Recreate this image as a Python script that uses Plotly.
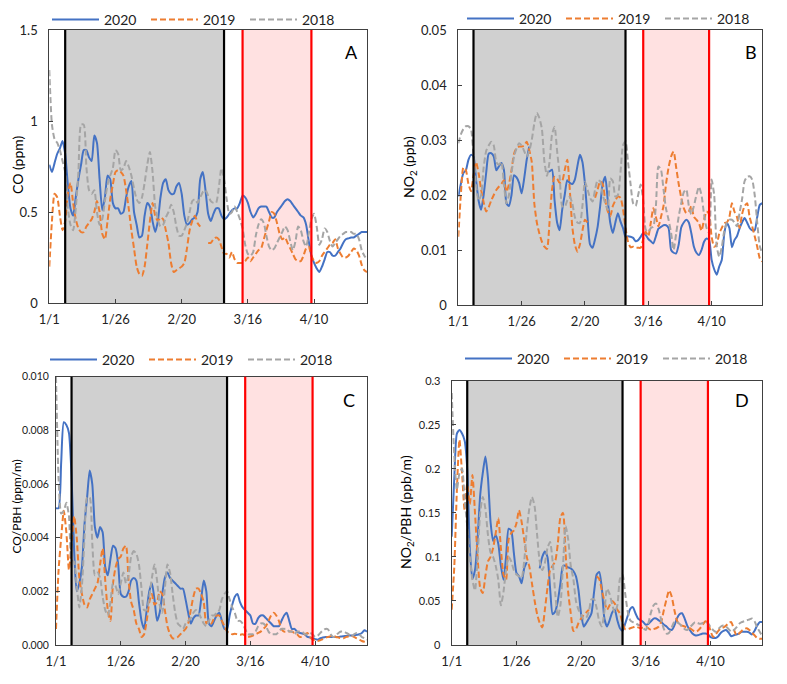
import plotly.graph_objects as go
import pandas as pd

# ---------------- data ----------------
dates = pd.date_range("2020-01-01", "2020-04-30", freq="D")
tick_dates = ["2020-01-01", "2020-01-26", "2020-02-20", "2020-03-16", "2020-04-10"]
tick_labels = ["1/1", "1/26", "2/20", "3/16", "4/10"]
years = ["2020", "2019", "2018"]
period_grey = ("2020-01-07", "2020-03-07")
period_red = ("2020-03-14", "2020-04-09")
N = None

co_2020 = [
    0.76, 0.72, 0.77, 0.82, 0.85, 0.89, 0.82, 0.65, 0.52, 0.48,
    0.58, 0.68, 0.76, 0.84, 0.84, 0.80, 0.78, 0.92, 0.88, 0.68,
    0.51, 0.58, 0.70, 0.68, 0.55, 0.52, 0.52, 0.49, 0.50, 0.58,
    0.64, 0.67, 0.50, 0.43, 0.36, 0.37, 0.48, 0.55, 0.53, 0.45,
    0.39, 0.45, 0.58, 0.66, 0.68, 0.62, 0.60, 0.60, 0.64, 0.66,
    0.60, 0.48, 0.43, 0.44, 0.46, 0.47, 0.50, 0.68, 0.72, 0.62,
    0.49, 0.45, 0.49, 0.52, 0.52, 0.48, 0.46, 0.47, 0.49, 0.51,
    0.52, 0.52, 0.55, 0.59, 0.58, 0.55, 0.50, 0.47, 0.49, 0.52,
    0.53, 0.53, 0.53, 0.50, 0.47, 0.47, 0.50, 0.52, 0.54, 0.56,
    0.57, 0.56, 0.54, 0.52, 0.50, 0.48, 0.47, 0.43, 0.34, 0.26,
    0.22, 0.19, 0.17, 0.20, 0.24, 0.28, 0.28, 0.26, 0.26, 0.28,
    0.30, 0.33, 0.35, 0.355, 0.36, 0.36, 0.37, 0.38, 0.39, 0.39,
    0.39]
co_2019 = [
    0.20, 0.45, 0.60, 0.58, 0.48, 0.40, 0.45, 0.60, 0.66, 0.55,
    0.46, 0.41, 0.39, 0.39, 0.42, 0.44, 0.46, 0.50, 0.56, 0.50,
    0.38, 0.35, 0.45, 0.57, 0.65, 0.72, 0.73, 0.72, 0.70, 0.62,
    0.52, 0.40, 0.30, 0.20, 0.16, 0.15, 0.20, 0.32, 0.45, 0.55,
    0.48, 0.45, 0.47, 0.46, 0.40, 0.33, 0.22, 0.17, 0.18, 0.19,
    0.20, 0.22, 0.30, 0.40, 0.45, 0.48, 0.44, 0.42, N, N,
    0.33, 0.33, 0.35, 0.36, 0.35, 0.31, 0.27, 0.27, 0.25, 0.28,
    0.24, 0.22, 0.22, 0.22, 0.23, 0.25, 0.23, 0.25, 0.27, 0.29,
    0.30, 0.35, 0.40, 0.45, 0.50, 0.49, 0.44, 0.38, 0.35, 0.36,
    0.33, 0.30, 0.27, 0.24, 0.23, 0.23, 0.26, 0.30, 0.31, 0.26,
    0.23, 0.22, 0.23, 0.26, 0.28, 0.30, 0.32, 0.33, 0.35, 0.30,
    0.27, 0.25, 0.25, 0.26, 0.28, 0.30, 0.29, 0.26, 0.21, 0.18,
    0.17]
co_2018 = [
    1.28, 0.98, 0.90, 0.88, 0.84, 0.78, 0.72, 0.52, 0.43, 0.40,
    0.52, 0.72, 0.98, 0.98, 0.75, 0.62, 0.60, 0.62, 0.50, 0.43,
    0.46, 0.56, 0.65, 0.70, 0.74, 0.84, 0.82, 0.73, 0.74, 0.78,
    0.75, 0.70, 0.63, 0.57, 0.55, 0.58, 0.66, 0.76, 0.83, 0.72,
    0.53, 0.46, 0.42, 0.43, 0.47, 0.50, 0.54, 0.50, 0.42, 0.37,
    0.37, 0.40, 0.44, 0.50, 0.56, 0.57, 0.55, 0.58, 0.61, 0.62,
    0.59, 0.56, 0.55, 0.55, 0.63, 0.74, 0.68, 0.57, 0.49, 0.50,
    0.53, 0.50, 0.46, 0.41, 0.32, 0.27, 0.26, 0.28, 0.37, 0.43,
    0.46, 0.44, 0.37, 0.31, 0.29, 0.30, 0.33, 0.36, 0.39, 0.42,
    0.40, 0.34, 0.29, 0.34, 0.42, 0.40, 0.34, 0.31, 0.38, 0.46,
    0.49, 0.42, 0.32, 0.35, 0.41, 0.39, 0.34, 0.31, 0.33, 0.35,
    0.37, 0.38, 0.39, 0.39, 0.39, 0.38, 0.38, 0.35, 0.29, 0.26,
    0.24]

no2_2020 = [
    0.0197, 0.022, 0.024, 0.0245, 0.0264, 0.0273, 0.027, 0.0228, 0.019, 0.0173,
    0.020, 0.024, 0.0275, 0.0276, 0.027, 0.0245, 0.0252, 0.0258, 0.0246, 0.0185,
    0.018, 0.020, 0.0236, 0.0232, 0.0222, 0.0203, 0.023, 0.0264, 0.0288, N,
    N, N, N, N, N, 0.0242, 0.0243, 0.0246, 0.019, 0.015,
    0.0136, 0.0173, 0.020, 0.0227, 0.0222, 0.022, 0.0228, 0.0252, 0.0273, 0.026,
    0.022, 0.016, 0.011, 0.0104, 0.012, 0.0142, 0.018, 0.022, 0.0233, 0.019,
    0.0149, 0.0131, 0.015, 0.0167, 0.0152, 0.014, 0.0124, 0.0125, 0.0124, 0.0122,
    0.0116, 0.0118, 0.0124, 0.0131, 0.0127, 0.0120, 0.0116, 0.0112, 0.0125, 0.0139,
    0.0142, 0.0145, 0.0145, 0.0140, 0.0100, 0.0095, 0.0094, 0.0110, 0.0141, 0.0150,
    0.0155, 0.0150, 0.0130, 0.0106, 0.0095, 0.0091, 0.0100, 0.0115, 0.0121, 0.0118,
    0.0082, 0.0065, 0.0055, 0.0070, 0.0082, 0.0130, 0.0149, 0.0140, 0.0105, 0.0118,
    0.0125, 0.0139, 0.0150, 0.0158, 0.0150, 0.0140, 0.0136, 0.0136, 0.0160, 0.0182,
    0.0185]
no2_2019 = [
    0.0124, 0.020, 0.025, 0.0245, 0.022, 0.0207, 0.0235, 0.026, 0.024, 0.021,
    0.0187, 0.017, 0.0178, 0.019, 0.020, 0.0209, 0.0215, 0.022, 0.0227, 0.0206,
    0.022, 0.0245, 0.0275, 0.0285, 0.0288, 0.0288, 0.029, 0.0297, 0.0282, 0.026,
    0.0185, 0.015, 0.013, 0.0115, 0.0106, 0.0102, 0.015, 0.021, 0.0233, 0.023,
    0.0222, 0.0225, 0.0245, 0.0264, 0.021, 0.0142, 0.011, 0.0097, 0.011, 0.0135,
    0.0155, 0.015, N, N, 0.0195, 0.021, 0.0225, 0.022, 0.019, 0.017,
    0.0162, 0.018, 0.019, 0.0197, 0.0195, 0.0175, 0.014, 0.0115, 0.0105, 0.0106,
    0.0104, 0.0104, 0.0104, 0.012, 0.0133, 0.0125, 0.015, 0.0176, 0.016, 0.0143,
    0.016, 0.018, 0.022, 0.025, 0.027, 0.0279, 0.025, 0.022, 0.0195, 0.0176,
    0.0167, 0.017, 0.018, 0.016, 0.0155, 0.0149, 0.0135, 0.0155, 0.017, 0.0165,
    0.0124, 0.0106, 0.011, 0.013, 0.014, 0.0149, 0.015, 0.016, 0.0185, 0.017,
    0.016, 0.014, 0.0165, 0.018, 0.0185, 0.016, 0.0143, 0.0125, 0.0106, 0.0085,
    0.0079]
no2_2018 = [
    0.0294, 0.031, 0.032, 0.0325, 0.0325, 0.032, 0.027, 0.022, 0.019, 0.020,
    0.025, 0.028, 0.029, 0.0297, 0.029, 0.026, 0.0255, 0.026, 0.022, 0.0185,
    0.020, 0.024, 0.027, 0.0285, 0.0294, 0.029, 0.028, 0.027, 0.028, 0.030,
    0.033, 0.0349, 0.034, 0.032, 0.026, 0.0235, 0.026, 0.031, 0.0324, 0.028,
    0.0235, 0.018, 0.0178, 0.019, 0.0197, 0.0185, 0.016, 0.015, 0.0149, 0.018,
    0.0224, 0.021, 0.0195, 0.0188, 0.021, 0.0227, 0.0225, 0.020, 0.0185, 0.0173,
    0.023, 0.0225, 0.0197, 0.020, 0.024, 0.029, 0.0298, 0.026, 0.022, 0.0185,
    0.018, 0.020, 0.0219, 0.019, 0.0137, 0.0133, 0.014, 0.0143, 0.018, 0.0252,
    0.0246, 0.021, 0.0175, 0.0155, 0.0131, 0.010, 0.013, 0.0161, 0.0185, 0.0205,
    0.021, 0.018, 0.0165, 0.018, 0.020, 0.0215, 0.020, 0.0165, 0.014, 0.0131,
    0.0228, 0.020, 0.0107, 0.0088, 0.0105, 0.0135, 0.015, 0.0155, 0.0155, 0.015,
    0.0143, 0.0167, 0.0192, 0.0225, 0.0233, 0.0234, 0.0228, 0.020, 0.015, 0.0107,
    0.0094]

copbh_2020 = [
    0.0051, 0.0051, 0.0068, 0.0083, 0.0082, 0.0079, 0.0063, 0.0035, 0.0020, 0.0023,
    0.0029, 0.0045, 0.0055, 0.0065, 0.0060, 0.0044, 0.0040, 0.0044, 0.0042, 0.0029,
    0.0026, 0.0032, 0.0037, 0.0036, 0.0030, 0.0019, 0.0018, 0.0018, 0.0020, 0.0024,
    0.0025, 0.0024, 0.0016, 0.0009, 0.0006, 0.0013, 0.0020, 0.0023, 0.0017, 0.0009,
    0.0012, 0.0019, 0.0025, 0.0027, 0.0025, 0.0024, 0.0023, 0.0022, 0.0021, 0.0021,
    0.0017, 0.0012, 0.0008, 0.0010, 0.0011, 0.0011, 0.0017, 0.0024, 0.0020, 0.0008,
    0.0007, 0.0009, 0.0011, 0.0012, 0.0009, 0.0006, 0.0006, 0.0011, 0.0015, 0.0018,
    0.0019, 0.0016, 0.0014, 0.0013, 0.0012, 0.0011, 0.0008, 0.0008, 0.0010, 0.0011,
    0.0011, 0.0010, 0.0009, 0.0008, 0.0007, 0.0007, 0.0007, 0.0009, 0.0011, 0.0012,
    0.0009, 0.0006, 0.0006, 0.0005, 0.00045, 0.00043, 0.0004, 0.0003, 0.00028, 0.00025,
    0.00022, 0.0002, 0.00025, 0.00028, 0.0003, 0.0003, 0.0003, 0.0003, 0.0003, 0.0003,
    0.00032, 0.00033, 0.00034, 0.00035, 0.00035, 0.00036, 0.00038, 0.0004, 0.00045, 0.00055,
    0.0005]
copbh_2019 = [
    0.0006, 0.0028, 0.0040, 0.0050, 0.0042, 0.0028, 0.0038, 0.0048, 0.0040, 0.0025,
    0.0019, 0.0015, 0.0014, 0.0017, 0.0019, 0.0021, 0.0023, 0.0030, 0.0036, 0.0024,
    0.0013, 0.0009, 0.0023, 0.0029, 0.0032, 0.0033, 0.0036, 0.0037, 0.0024, 0.0016,
    0.0013, 0.0008, 0.0006, 0.0003, 0.0004, 0.0009, 0.0016, 0.0019, 0.0015, 0.0016,
    0.0020, 0.0019, 0.0013, 0.0007, 0.0004, 0.00025, 0.00025, 0.0003, 0.0004, 0.0005,
    0.0006, 0.0008, 0.0013, 0.0018, 0.0021, 0.0021, 0.0019, 0.0016, 0.0008, 0.0009,
    0.0008, 0.0010, 0.0011, 0.0011, 0.0009, 0.0007, 0.0005, 0.00045, 0.0004, 0.00042,
    0.0004, 0.00038, 0.0004, 0.00035, 0.0003, 0.00032, 0.00035, 0.0004, 0.00045, 0.0005,
    0.0006, 0.0007, 0.0009, 0.0011, 0.0012, 0.0011, 0.0009, 0.0006, 0.0005, 0.0005,
    0.0005, 0.0005, 0.00045, 0.0004, 0.0003, 0.0003, 0.0004, 0.00045, 0.0003, 0.0002,
    0.00018, 0.00015, 0.00018, 0.00022, 0.00027, 0.0003, 0.00033, 0.00035, 0.0003, 0.00028,
    0.00025, 0.00025, 0.0003, 0.00033, 0.00035, 0.0003, 0.00025, 0.0002, 0.00015, 0.00012,
    0.0001]
copbh_2018 = [
    0.0100, 0.0062, 0.0049, 0.0050, 0.0053, 0.0048, 0.0032, 0.0031, 0.0022, 0.0014,
    0.0022, 0.0040, 0.0055, 0.0055, 0.0038, 0.0026, 0.0027, 0.0025, 0.0018, 0.0013,
    0.0011, 0.0016, 0.0023, 0.0022, 0.0019, 0.0023, 0.0027, 0.0023, 0.0026, 0.0033,
    0.0035, 0.0034, 0.0030, 0.0021, 0.0013, 0.0013, 0.0018, 0.0025, 0.0030, 0.0024,
    0.0015, 0.0012, 0.0021, 0.0030, 0.0027, 0.0019, 0.0012, 0.0008, 0.0007, 0.0006,
    0.0008, 0.0009, 0.0010, 0.0012, 0.0013, 0.0012, 0.0010, 0.0008, 0.0007, 0.0009,
    0.0011, 0.0011, 0.0012, 0.0013, 0.0017, 0.0019, 0.0020, 0.0017, 0.0014, 0.0012,
    0.0009, 0.0009, 0.0008, 0.0006, 0.0004, 0.0004, 0.0004, 0.0005, 0.0007, 0.0008,
    0.0008, 0.0007, 0.0005, 0.0004, 0.0004, 0.0004, 0.0005, 0.0006, 0.0006, 0.0006,
    0.0005, 0.0005, 0.0004, 0.0005, 0.0005, 0.0005, 0.0004, 0.0004, 0.00045, 0.0004,
    0.0003, 0.00035, 0.00045, 0.00055, 0.0006, 0.00058, 0.0004, 0.0003, 0.00035, 0.00045,
    0.0005, 0.0005, 0.00045, 0.0004, 0.0003, 0.0004, 0.00045, 0.0004, 0.0003, 0.00025,
    0.0002]

no2pbh_2020 = [
    0.123, 0.19, 0.240, 0.244, 0.240, 0.232, 0.200, 0.110, 0.075, 0.085,
    0.120, 0.170, 0.195, 0.214, 0.190, 0.140, 0.118, 0.125, 0.115, 0.090,
    0.074, 0.100, 0.132, 0.130, 0.105, 0.082, 0.078, 0.070, 0.087, 0.094,
    N, N, N, N, 0.087, 0.100, 0.106, 0.100, 0.065, 0.035,
    0.038, 0.050, 0.070, 0.090, 0.090, 0.088, 0.087, 0.084, 0.078, 0.062,
    0.035, 0.021, 0.025, 0.030, 0.036, 0.060, 0.080, 0.083, 0.065, 0.030,
    0.021, 0.028, 0.037, 0.040, 0.028, 0.019, 0.016, 0.024, 0.033, 0.041,
    0.043, 0.036, 0.030, 0.028, 0.026, 0.023, 0.024, 0.027, 0.030, 0.030,
    0.028, 0.026, 0.023, 0.021, 0.018, 0.017, 0.022, 0.030, 0.035, 0.036,
    0.030, 0.022, 0.017, 0.013, 0.011, 0.011, 0.012, 0.013, 0.013, 0.012,
    0.009, 0.008, 0.008, 0.010, 0.014, 0.016, 0.017, 0.014, 0.010, 0.011,
    0.012, 0.013, 0.015, 0.015, 0.015, 0.014, 0.012, 0.016, 0.022, 0.026,
    0.026]
no2pbh_2019 = [
    0.040, 0.089, 0.176, 0.233, 0.195, 0.153, 0.183, 0.160, 0.193, 0.150,
    0.100, 0.065, 0.059, 0.078, 0.095, 0.100, 0.110, 0.127, 0.144, 0.110,
    0.080, 0.074, 0.120, 0.127, 0.130, 0.138, 0.153, 0.140, 0.120, 0.100,
    0.089, 0.070, 0.051, 0.035, 0.025, 0.020, 0.040, 0.065, 0.085, 0.090,
    0.095, 0.115, 0.145, 0.150, 0.105, 0.060, 0.036, 0.016, 0.018, 0.025,
    0.030, 0.034, 0.037, 0.040, N, N, 0.078, 0.075, 0.062, 0.050,
    0.040, 0.045, 0.050, 0.047, 0.040, 0.036, 0.025, 0.018, 0.018, 0.019,
    0.020, 0.021, 0.020, 0.019, 0.020, 0.021, 0.019, 0.017, 0.018, 0.019,
    0.021, 0.027, 0.040, 0.052, 0.062, 0.055, 0.040, 0.028, 0.023, 0.022,
    0.021, 0.020, 0.019, 0.017, 0.015, 0.016, 0.019, 0.023, 0.027, 0.025,
    0.016, 0.009, 0.012, 0.016, 0.019, 0.020, 0.022, 0.025, 0.026, 0.018,
    0.011, 0.013, 0.016, 0.018, 0.019, 0.017, 0.014, 0.011, 0.008, 0.007,
    0.007]
no2pbh_2018 = [
    0.286, 0.215, 0.176, 0.195, 0.200, 0.165, 0.135, 0.100, 0.074, 0.062,
    0.100, 0.150, 0.168, 0.155, 0.125, 0.105, 0.100, 0.090, 0.074, 0.045,
    0.060, 0.085, 0.100, 0.095, 0.085, 0.080, 0.078, 0.076, 0.095, 0.130,
    0.155, 0.168, 0.158, 0.125, 0.095, 0.085, 0.093, 0.110, 0.117, 0.095,
    0.059, 0.032, 0.045, 0.090, 0.135, 0.120, 0.090, 0.075, 0.050, 0.040,
    0.035, 0.029, 0.031, 0.038, 0.052, 0.052, 0.042, 0.027, 0.021, 0.038,
    0.064, 0.058, 0.046, 0.037, 0.045, 0.075, 0.080, 0.059, 0.038, 0.028,
    0.026, 0.025, 0.023, 0.022, 0.019, 0.017, 0.025, 0.037, 0.045, 0.047,
    0.040, 0.028, 0.018, 0.013, 0.014, 0.020, 0.026, 0.026, 0.024, 0.021,
    0.018, 0.017, 0.020, 0.023, 0.026, 0.025, 0.024, 0.025, 0.026, 0.025,
    0.020, 0.017, 0.015, 0.018, 0.021, 0.022, 0.021, 0.018, 0.015, 0.017,
    0.020, 0.024, 0.026, 0.027, 0.028, 0.029, 0.030, 0.027, 0.020, 0.015,
    0.010]

# ---------------- styling / layout ----------------
# The page adds an 8px body margin, so the figure is 8px smaller than the
# window in each direction and window-pixel positions are shifted by 8.
OFF = 8
W, H = 787 - OFF, 684 - OFF
FONT = "Lato, 'Liberation Sans', Arial, sans-serif"
colors = {"2020": "#4472C4", "2019": "#ED7D31", "2018": "#A5A5A5"}
dashes = {"2020": "solid", "2019": "6px,3px", "2018": "6px,3px"}


def fx(px):
    return (px - OFF) / W


def fy(py):
    return 1 - (py - OFF) / H


panels = [
    dict(label="A", series=[co_2020, co_2019, co_2018], px=(49.3, 367), py=(30, 303),
         yrange=[0, 1.5], dtick=0.5, fmt="", yfs=13, tfs=14, stand=8,
         title="CO (ppm)", tpos=(17, 165), lpos=(351, 52), legpos=(47, 20)),
    dict(label="B", series=[no2_2020, no2_2019, no2_2018], px=(458.3, 762.3), py=(30, 305),
         yrange=[0, 0.05], dtick=0.01, fmt="", yfs=13, tfs=14, stand=8,
         title="NO<sub>2</sub> (ppb)", tpos=(409, 167), lpos=(751, 52), legpos=(462, 19)),
    dict(label="C", series=[copbh_2020, copbh_2019, copbh_2018], px=(56, 367), py=(376.7, 645),
         yrange=[0, 0.01], dtick=0.002, fmt=".3f", yfs=10.5, tfs=12, stand=4,
         title="CO/PBH (ppm/m)", tpos=(15.5, 507), lpos=(349, 400), legpos=(45, 360)),
    dict(label="D", series=[no2pbh_2020, no2pbh_2019, no2pbh_2018], px=(451.7, 762.3), py=(380.7, 645),
         yrange=[0, 0.3], dtick=0.05, fmt="", yfs=11, tfs=14, stand=8,
         title="NO<sub>2</sub>/PBH (ppb/m)", tpos=(406, 512), lpos=(742, 400), legpos=(460, 359)),
]

fig = go.Figure()
layout = dict(
    width=W, height=H, margin=dict(l=0, r=0, t=0, b=0, autoexpand=False),
    paper_bgcolor="white", plot_bgcolor="white",
    font=dict(family=FONT, size=13, color="#222222"),
    shapes=[], annotations=[],
)

for i, p in enumerate(panels):
    n = i + 1
    xa = "x" if n == 1 else f"x{n}"
    ya = "y" if n == 1 else f"y{n}"
    leg = "legend" if n == 1 else f"legend{n}"
    for yr, vals in zip(years, p["series"]):
        fig.add_trace(go.Scatter(
            x=dates[:len(vals)], y=vals, name=yr, mode="lines",
            line=dict(color=colors[yr], width=2, dash=dashes[yr], shape="spline", smoothing=0.6),
            connectgaps=False, xaxis=xa, yaxis=ya, legend=leg, showlegend=True,
        ))
    dx = [fx(p["px"][0]), fx(p["px"][1])]
    dy = [fy(p["py"][1]), fy(p["py"][0])]
    axis_common = dict(showline=True, linecolor="#404040", linewidth=1, mirror=True,
                       ticks="inside", ticklen=4, tickcolor="#404040", showgrid=False,
                       zeroline=False, fixedrange=True)
    layout["xaxis" if n == 1 else f"xaxis{n}"] = dict(
        axis_common, domain=dx, anchor=ya, type="date",
        range=[dates[0], dates[-1]], tickvals=tick_dates, ticktext=tick_labels,
        tickfont=dict(size=13), ticklabelstandoff=4)
    layout["yaxis" if n == 1 else f"yaxis{n}"] = dict(
        axis_common, domain=dy, anchor=xa, range=p["yrange"], dtick=p["dtick"],
        tick0=0, tickformat=p["fmt"], tickfont=dict(size=p["yfs"]),
        ticklabelstandoff=p["stand"])
    # shaded periods
    for (x0, x1), fill in [(period_grey, "#D0D0D0"), (period_red, "#FFE1E1")]:
        layout["shapes"].append(dict(type="rect", xref=xa, yref=f"{ya} domain",
                                     x0=x0, x1=x1, y0=0, y1=1, fillcolor=fill,
                                     line=dict(width=0), layer="below"))
    for d, c in [(period_grey[0], "black"), (period_grey[1], "black"),
                 (period_red[0], "#FF0000"), (period_red[1], "#FF0000")]:
        layout["shapes"].append(dict(type="line", xref=xa, yref=f"{ya} domain",
                                     x0=d, x1=d, y0=0, y1=1,
                                     line=dict(color=c, width=2.2), layer="above"))
    # panel letter
    layout["annotations"].append(dict(text=p["label"], xref="paper", yref="paper",
                                      x=fx(p["lpos"][0]), y=fy(p["lpos"][1]),
                                      showarrow=False, font=dict(size=18, color="black"),
                                      xanchor="center", yanchor="middle"))
    # y title
    layout["annotations"].append(dict(text=p["title"], xref="paper", yref="paper",
                                      x=fx(p["tpos"][0]), y=fy(p["tpos"][1]),
                                      showarrow=False, textangle=-90,
                                      font=dict(size=p["tfs"], color="black"),
                                      xanchor="center", yanchor="middle"))
    layout[leg] = dict(orientation="h", x=fx(p["legpos"][0]), y=fy(p["legpos"][1]),
                       xanchor="left", yanchor="middle", bgcolor="rgba(0,0,0,0)",
                       font=dict(size=14, color="#222222"), entrywidth=37, itemwidth=47,
                       entrywidthmode="pixels", tracegroupgap=0)

fig.update_layout(**layout)
fig.write_html("out.html")
